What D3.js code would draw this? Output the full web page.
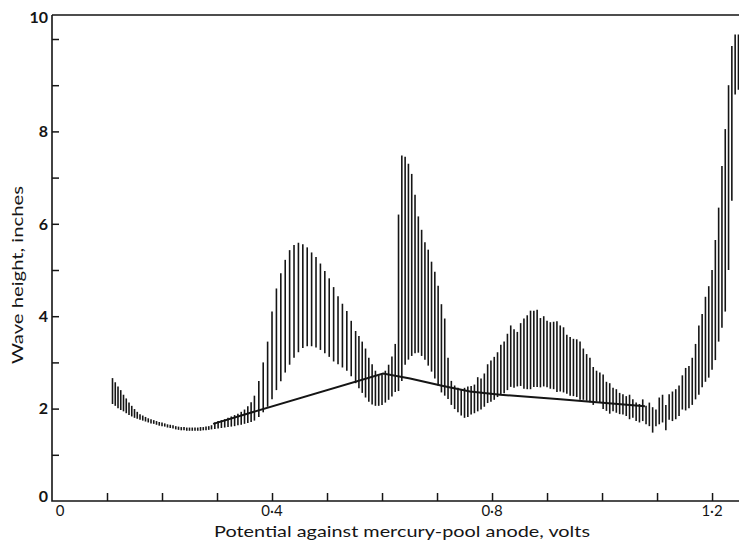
<!DOCTYPE html>
<html>
<head>
<meta charset="utf-8">
<script src="https://cdn.jsdelivr.net/npm/d3@7"></script>
<style>
    body { margin: 0; background: #fff; }
    svg { display: block; }
    text { font-family: Lato, "Open Sans", sans-serif; fill: #151515; }
</style>
</head>
<body>
<svg width="739" height="541"></svg>
<script>
// potential of each drop trace (volts) with its lowest and highest wave height (inches)
const volts = [
    0.110, 0.115, 0.120, 0.125, 0.130, 0.135, 0.140, 0.145, 0.150, 0.155,
    0.160, 0.165, 0.170, 0.175, 0.180, 0.185, 0.190, 0.195, 0.200, 0.205,
    0.210, 0.215, 0.220, 0.225, 0.230, 0.235, 0.240, 0.245, 0.250, 0.255,
    0.260, 0.265, 0.270, 0.275, 0.280, 0.285, 0.290,
    0.296, 0.302, 0.308, 0.314, 0.320, 0.326, 0.332, 0.338, 0.344, 0.350,
    0.356, 0.362, 0.368,
    0.376, 0.384, 0.392, 0.400, 0.408, 0.416, 0.424, 0.432, 0.440, 0.448,
    0.456, 0.464, 0.472, 0.480, 0.488, 0.496, 0.504, 0.512, 0.520, 0.528,
    0.536, 0.544, 0.552,
    0.558, 0.564, 0.570, 0.576, 0.582, 0.588, 0.594, 0.600, 0.606, 0.612,
    0.618, 0.624, 0.630, 0.636, 0.642, 0.648, 0.654, 0.660, 0.666, 0.672,
    0.678, 0.684, 0.690, 0.696,
    0.702, 0.708, 0.714, 0.720, 0.726, 0.732, 0.738, 0.744, 0.750, 0.756,
    0.762, 0.768, 0.774, 0.780, 0.786, 0.792, 0.798, 0.804, 0.810, 0.816,
    0.822, 0.828, 0.834, 0.840, 0.846, 0.852, 0.858, 0.864, 0.870, 0.876,
    0.882, 0.888, 0.894, 0.900, 0.906, 0.912, 0.918, 0.924, 0.930, 0.936,
    0.942, 0.948, 0.954, 0.960, 0.966, 0.972, 0.978, 0.984, 0.990, 0.996,
    1.002, 1.008, 1.014, 1.020, 1.026, 1.032, 1.038, 1.044, 1.050, 1.056,
    1.062, 1.068, 1.074, 1.080, 1.086, 1.092, 1.098, 1.104, 1.110, 1.116,
    1.122, 1.128, 1.134, 1.140, 1.146, 1.152, 1.158, 1.164, 1.170, 1.176,
    1.182, 1.188, 1.194, 1.200, 1.206, 1.212, 1.218, 1.224, 1.230, 1.236,
    1.242, 1.248
];

const highH = [
    2.66, 2.57, 2.48, 2.40, 2.30, 2.22, 2.13, 2.06, 1.99, 1.93,
    1.88, 1.85, 1.82, 1.79, 1.77, 1.75, 1.73, 1.71, 1.70, 1.68,
    1.66, 1.65, 1.64, 1.62, 1.61, 1.60, 1.60, 1.59, 1.59, 1.59,
    1.59, 1.59, 1.60, 1.60, 1.61, 1.62, 1.64,
    1.70, 1.73, 1.75, 1.77, 1.80, 1.83, 1.86, 1.89, 1.93, 1.98,
    2.05, 2.14, 2.28,
    2.60, 3.00, 3.45, 4.10, 4.60, 4.93, 5.22, 5.43, 5.54, 5.59,
    5.56, 5.49, 5.38, 5.28, 5.14, 4.98, 4.82, 4.63, 4.43, 4.27,
    4.11, 3.90, 3.68,
    3.57, 3.45, 3.30, 3.10, 2.96, 2.82, 2.72, 2.74, 2.82, 2.95,
    3.13, 3.40, 6.20, 7.48, 7.45, 7.30, 7.08, 6.63, 6.16, 5.87,
    5.60, 5.44, 5.18, 4.96,
    4.66, 4.26, 3.95, 3.10, 2.60, 2.50, 2.45, 2.42, 2.45, 2.48,
    2.49, 2.52, 2.68, 2.65, 2.76, 2.96, 3.04, 3.12, 3.22, 3.38,
    3.45, 3.62, 3.80, 3.72, 3.66, 3.85, 3.95, 4.02, 4.12, 4.12,
    4.14, 3.96, 4.00, 3.90, 3.87, 3.88, 3.89, 3.80, 3.76, 3.60,
    3.55, 3.51, 3.50, 3.45, 3.30, 3.18, 3.10, 2.90, 2.82, 2.78,
    2.74, 2.58, 2.55, 2.45, 2.42, 2.34, 2.31, 2.27, 2.30, 2.20,
    2.13, 2.10, 2.20, 2.06, 2.13, 2.03, 1.98, 2.24, 2.30, 2.08,
    2.31, 2.37, 2.42, 2.50, 2.72, 2.88, 2.92, 3.10, 3.40, 3.80,
    4.05, 4.42, 4.65, 5.00, 5.65, 6.35, 7.25, 8.05, 9.00, 9.85,
    10.10, 10.10
];

const lowH = [
    2.10, 2.06, 2.01, 1.97, 1.94, 1.90, 1.86, 1.83, 1.80, 1.78,
    1.76, 1.74, 1.72, 1.70, 1.68, 1.67, 1.65, 1.63, 1.62, 1.61,
    1.59, 1.58, 1.57, 1.55, 1.54, 1.53, 1.53, 1.52, 1.52, 1.52,
    1.52, 1.52, 1.52, 1.53, 1.53, 1.54, 1.55,
    1.56, 1.57, 1.58, 1.59, 1.60, 1.61, 1.62, 1.64, 1.65, 1.67,
    1.69, 1.71, 1.74,
    1.82, 1.92, 2.04, 2.20, 2.40, 2.59, 2.78, 2.95, 3.10, 3.22,
    3.31, 3.35, 3.35, 3.32, 3.27, 3.20, 3.12, 3.02, 2.96, 2.89,
    2.82, 2.70, 2.55,
    2.44, 2.34, 2.24, 2.15, 2.09, 2.06, 2.06, 2.08, 2.13, 2.19,
    2.26, 2.36, 2.38, 2.60, 2.95, 3.06, 3.14, 3.20, 3.21, 3.14,
    3.06, 2.93, 2.80, 2.65,
    2.50, 2.35, 2.28, 2.21, 2.08, 1.99, 1.92, 1.85, 1.80, 1.82,
    1.87, 1.90, 1.94, 1.98, 2.04, 2.12, 2.15, 2.19, 2.25, 2.30,
    2.33, 2.40, 2.47, 2.45, 2.48, 2.49, 2.43, 2.42, 2.42, 2.47,
    2.47, 2.46, 2.48, 2.46, 2.43, 2.42, 2.36, 2.37, 2.35, 2.32,
    2.28, 2.27, 2.25, 2.19, 2.19, 2.17, 2.14, 2.08, 2.15, 2.13,
    1.99, 1.95, 1.89, 1.94, 1.91, 1.88, 1.87, 1.84, 1.77, 1.80,
    1.73, 1.70, 1.73, 1.66, 1.62, 1.48, 1.62, 1.66, 1.70, 1.53,
    1.76, 1.73, 1.77, 1.84, 1.98, 1.96, 2.01, 2.08, 2.20, 2.30,
    2.46, 2.58, 2.67, 2.84, 3.05, 3.45, 3.75, 4.10, 5.00, 6.50,
    8.80, 8.90
];

// the straight reference line ruled across the record
const lineVolts = [0.293, 0.602, 0.651, 0.711, 0.760, 0.815, 0.924, 1.078];
const lineH = [1.67, 2.76, 2.65, 2.49, 2.37, 2.30, 2.20, 2.05];

const xTicks = [0.1, 0.2, 0.3, 0.4, 0.5, 0.6, 0.7, 0.8, 0.9, 1.0, 1.1, 1.2];
const xLabels = [0, 0.4, 0.8, 1.2];
const yTicks = [1, 2, 3, 4, 5, 6, 7, 8, 9, 10];
const yLabels = [0, 2, 4, 6, 8];

const svg = d3.select("svg"),
    width = +svg.attr("width"),
    height = +svg.attr("height");

const ink = "#151515";
const yMax = 10.52; // the top rule sits a little above the 10 mark

const x = d3.scaleLinear().domain([0, 1.249]).range([52, width]);
const y = d3.scaleLinear().domain([0, 10]).range([501, 39]);

// frame: left axis, bottom axis, top rule
svg.append("path")
    .attr("d", "M" + x(0) + "," + y(yMax) + "V" + y(0) + "H" + width
        + "M" + x(0) + "," + y(yMax) + "H" + width)
    .attr("fill", "none")
    .attr("stroke", ink)
    .attr("stroke-width", 1.6);

// inward tick marks
svg.append("g")
    .attr("transform", "translate(" + x(0) + ",0)")
    .call(d3.axisRight(y).tickValues(yTicks).tickSize(7).tickFormat(""))
    .call(function (g) {
        g.select(".domain").remove();
        g.selectAll("line").attr("stroke", ink).attr("stroke-width", 1.5);
    });

svg.append("g")
    .attr("transform", "translate(0," + y(0) + ")")
    .call(d3.axisTop(x).tickValues(xTicks).tickSize(8).tickFormat(""))
    .call(function (g) {
        g.select(".domain").remove();
        g.selectAll("line").attr("stroke", ink).attr("stroke-width", 1.5);
    });

// tick labels
svg.append("g")
    .selectAll("text")
    .data(yLabels)
    .enter().append("text")
    .attr("x", 48)
    .attr("y", function (d) {
        return d === 0 ? y(d) - 5 : y(d);
    })
    .attr("dy", "0.36em")
    .attr("text-anchor", "end")
    .attr("font-size", 16)
    .attr("font-weight", "bold")
    .text(function (d) {
        return d;
    });

svg.append("text")
    .attr("x", 48)
    .attr("y", y(yMax) + 2)
    .attr("dy", "0.36em")
    .attr("text-anchor", "end")
    .attr("font-size", 16)
    .attr("font-weight", "bold")
    .text("10");

svg.append("g")
    .selectAll("text")
    .data(xLabels)
    .enter().append("text")
    .attr("x", function (d) {
        return d === 0 ? x(d) + 8 : x(d);
    })
    .attr("y", 516)
    .attr("text-anchor", "middle")
    .attr("font-size", 15)
    .text(function (d) {
        return d === 0 ? "0" : d3.format(".1f")(d).replace(".", "·");
    });

// axis titles
svg.append("text")
    .attr("x", 402)
    .attr("y", 537)
    .attr("text-anchor", "middle")
    .attr("font-size", 16)
    .attr("textLength", 376)
    .attr("lengthAdjust", "spacingAndGlyphs")
    .text("Potential against mercury-pool anode, volts");

svg.append("text")
    .attr("transform", "translate(23,275) rotate(-90)")
    .attr("text-anchor", "middle")
    .attr("font-size", 16)
    .attr("textLength", 178)
    .attr("lengthAdjust", "spacingAndGlyphs")
    .text("Wave height, inches");

// one vertical stroke per mercury drop
const drops = volts.map(function (v, i) {
    return {v: v, lo: lowH[i], hi: highH[i]};
});

svg.append("g")
    .attr("class", "drops")
    .selectAll("line")
    .data(drops)
    .enter().append("line")
    .attr("x1", function (d) {
        return x(d.v);
    })
    .attr("x2", function (d) {
        return x(d.v);
    })
    .attr("y1", function (d) {
        return y(d.lo);
    })
    .attr("y2", function (d) {
        return y(d.hi);
    })
    .attr("stroke", ink)
    .attr("stroke-width", 1.6);

const ruled = d3.line()
    .x(function (d, i) {
        return x(lineVolts[i]);
    })
    .y(function (d) {
        return y(d);
    });

svg.append("path")
    .datum(lineH)
    .attr("d", ruled)
    .attr("fill", "none")
    .attr("stroke", ink)
    .attr("stroke-width", 2);
</script>
</body>
</html>
